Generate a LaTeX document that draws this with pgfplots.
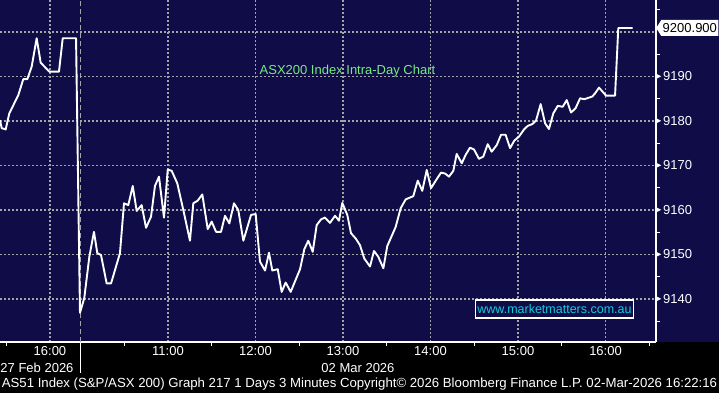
\documentclass[border=0pt]{standalone}
\usepackage{pgfplots}
\pgfplotsset{compat=1.18}
\usepackage{pgfplotstable}
\usepackage{fontspec}
\setmainfont{Liberation Sans}
\usetikzlibrary{shapes.symbols}
\definecolor{bgnavy}{RGB}{15,12,72}
\definecolor{gridgray}{RGB}{165,165,165}
\definecolor{titlegreen}{RGB}{120,235,130}
\definecolor{wmcyan}{RGB}{20,205,220}
\newcommand\lbl{\fontsize{13bp}{15bp}\selectfont}
\newcommand\tri{\tikz[baseline=0pt]\fill[white] (0pt,2.15bp) -- (5bp,4.65bp) -- (0pt,7.15bp) -- cycle;}

% time in chart hours (values < 10 are the last minutes of 27 Feb 2026)
\pgfplotstableread{
t v
9.080 9180.2
9.099 9178.4
9.145 9178.1
9.186 9181.7
9.289 9185.8
9.346 9189.4
9.392 9189.4
9.442 9192.2
9.499 9198.6
9.545 9193.1
9.643 9191.1
9.754 9191.1
9.797 9198.6
9.949 9198.6
9.994 9136.9
10.043 9140.2
10.101 9149.5
10.154 9155.1
10.192 9150.3
10.234 9149.9
10.299 9143.5
10.349 9143.5
10.451 9150.3
10.497 9161.5
10.546 9161.1
10.597 9165.4
10.642 9159.8
10.699 9161.1
10.749 9156.0
10.806 9158.5
10.851 9165.4
10.897 9167.5
10.954 9158.3
10.997 9169.1
11.042 9168.8
11.106 9166.0
11.175 9160.0
11.251 9153.1
11.289 9161.5
11.339 9162.1
11.392 9163.5
11.454 9155.7
11.499 9157.4
11.549 9155.1
11.606 9155.1
11.651 9158.7
11.701 9157.0
11.754 9161.5
11.803 9160.0
11.861 9153.1
11.949 9158.9
12.002 9159.1
12.051 9148.4
12.109 9146.4
12.154 9150.4
12.192 9146.4
12.254 9146.7
12.299 9141.6
12.345 9143.7
12.402 9141.6
12.509 9146.7
12.558 9151.2
12.603 9153.1
12.654 9150.6
12.699 9156.6
12.749 9157.9
12.794 9158.3
12.851 9157.1
12.909 9158.7
12.954 9157.6
12.992 9161.6
13.049 9158.9
13.091 9154.8
13.145 9153.6
13.194 9152.1
13.243 9149.1
13.309 9147.3
13.354 9150.8
13.403 9149.5
13.461 9146.9
13.506 9151.9
13.602 9156.2
13.659 9160.4
13.717 9162.4
13.803 9163.1
13.854 9166.6
13.906 9164.3
13.957 9169.0
14.006 9164.9
14.063 9166.7
14.120 9168.4
14.166 9168.2
14.211 9167.5
14.261 9168.8
14.299 9172.6
14.357 9170.5
14.402 9172.4
14.451 9174.0
14.497 9173.6
14.554 9171.5
14.603 9172.0
14.654 9174.8
14.699 9173.1
14.757 9174.6
14.806 9176.9
14.859 9176.9
14.909 9173.9
14.958 9175.6
15.011 9176.5
15.069 9178.1
15.111 9178.9
15.163 9179.3
15.206 9180.1
15.259 9183.8
15.309 9179.5
15.354 9178.2
15.403 9181.7
15.454 9183.4
15.511 9183.2
15.557 9184.7
15.606 9181.9
15.659 9182.9
15.709 9185.1
15.758 9184.9
15.803 9185.2
15.849 9185.5
15.880 9186.2
15.926 9187.5
16.006 9185.7
16.109 9185.7
16.146 9200.9
16.311 9200.9
}\asx

\begin{document}
\begin{tikzpicture}
\useasboundingbox (0bp,0bp) rectangle (719bp,393bp);
\fill[black] (0bp,0bp) rectangle (719bp,393bp);
\fill[bgnavy] (0bp,51bp) rectangle (719bp,393bp);
\begin{axis}[
  at={(0bp,51bp)}, anchor=south west,
  scale only axis, width=656bp, height=342bp,
  xmin=9.08, xmax=16.577, ymin=9130.34, ymax=9207.19,
  axis x line*=bottom, axis y line*=right,
  axis line style={white, line width=1.2bp},
  clip mode=individual,
  /pgf/number format/assume math mode=true,
  /pgf/number format/1000 sep={},
  xtick={9.651,11,12,13,14,15,16},
  xticklabels={16:00,11:00,12:00,13:00,14:00,15:00,16:00},
  minor xtick={9.151,10.5,11.5,12.5,13.5,14.5,15.5,16.5},
  ytick={9140,9150,9160,9170,9180,9190},
  minor ytick={9135,9145,9155,9165,9175,9185,9195,9205},
  extra y ticks={9200}, extra y tick labels={},
  major tick length=0pt, minor tick length=4bp,
  tick align=outside,
  tick style={white, line width=1bp},
  xmajorgrids, ymajorgrids,
  major grid style={gridgray, line width=1.9bp, dash pattern=on 1.9bp off 2.1bp},
  xticklabel style={font=\lbl, text=white, anchor=base, yshift=-13.7bp},
  yticklabel style={font=\lbl, text=white, anchor=west, inner sep=0pt, xshift=0pt},
  yticklabel={\tri\hspace{2bp}\pgfmathprintnumber{\tick}},
]
\draw[gridgray, line width=1.3bp, dash pattern=on 5bp off 3bp] (axis cs:10,9130.34) -- (axis cs:10,9207.19);
\draw[white, line width=1.2bp] (axis cs:10,9130.34) -- ([yshift=-31bp]axis cs:10,9130.34);
\addplot[white, line width=1.9bp, line join=round] table[x=t, y=v] {\asx};
\node[font=\lbl, text=titlegreen] at (axis cs:13.051,9191.3) {ASX200 Index Intra-Day Chart};
\node[draw=white, line width=1.2bp, fill=bgnavy, text=wmcyan, font=\fontsize{12.5bp}{14bp}\selectfont, inner sep=2bp, minimum height=18bp] at (axis cs:15.417,9137.75) {www.marketmatters.com.au};
\node[signal, signal to=west, signal pointer angle=116, fill=white, text=black, font=\lbl, inner sep=1.5bp, minimum height=16bp, anchor=west] at (axis cs:16.577,9200.9) {9200.900};
\node[font=\lbl, text=white, anchor=base east, yshift=-30bp] at (axis cs:9.96,9130.34) {27 Feb 2026};
\node[font=\lbl, text=white, anchor=base, yshift=-30bp] at (axis cs:13.171,9130.34) {02 Mar 2026};
\end{axis}
\node[font=\fontsize{13.2bp}{15bp}\selectfont, text=white] at (359.5bp,9bp) {AS51 Index (S\&P/ASX 200) Graph 217 1 Days 3 Minutes Copyright© 2026 Bloomberg Finance L.P. 02-Mar-2026 16:22:16};
\end{tikzpicture}
\end{document}
